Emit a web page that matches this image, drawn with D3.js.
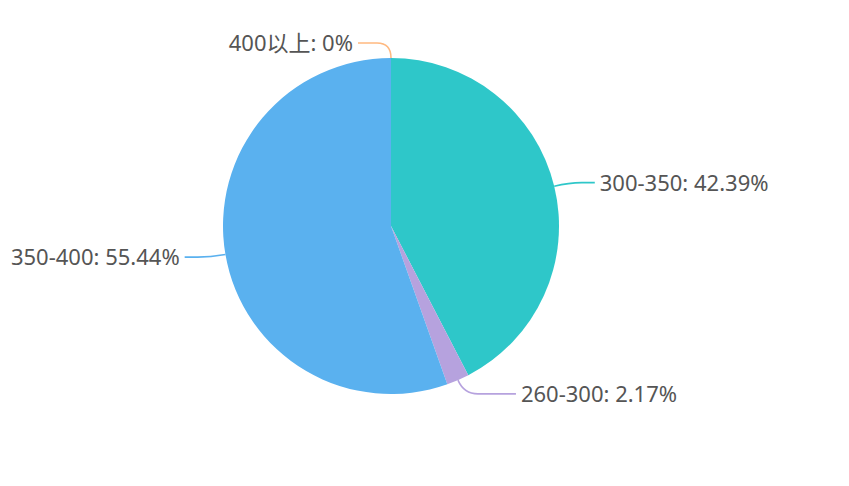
<!DOCTYPE html>
<html><head><meta charset="utf-8">
<script src="https://cdn.jsdelivr.net/npm/d3@7"></script>
<style>body{margin:0;background:#fff}svg{display:block}</style>
</head><body>
<svg id="c" width="849" height="486"></svg>
<script>
const categories = ["300-350", "260-300", "350-400", "400以上"];
const percents = [42.39, 2.17, 55.44, 0];
const colors = ["#2ec7c9", "#b6a2de", "#5ab1ef", "#ffb980"];

const W = 849, H = 486;
const cx = 391, cy = 226, R = 168;
const len1 = 15;
const len2 = [26, 52, 26, 33];

const svg = d3.select("#c");
const data = categories.map((c, i) => ({name: c, value: percents[i], color: colors[i], i}));
const pie = d3.pie().value(d => d.value).sort(null);
const arcs = pie(data);
const arc = d3.arc().innerRadius(0).outerRadius(R);

const g = svg.append("g").attr("transform", `translate(${cx},${cy})`);
g.selectAll("path.slice").data(arcs).enter().append("path")
  .attr("class", "slice").attr("d", arc).attr("fill", d => d.data.color);

arcs.forEach(a => {
  const mid = (a.startAngle + a.endAngle) / 2;
  const sx = Math.sin(mid), sy = -Math.cos(mid);
  const p0 = [R * sx, R * sy];
  const p1 = [(R + len1) * sx, (R + len1) * sy];
  const right = sx >= 0 && mid < Math.PI * 2 - 1e-6;
  const dir = right ? 1 : -1;
  const p2 = [p1[0] + dir * len2[a.data.i], p1[1]];
  const pq = [p1[0] + dir * Math.min(14, len2[a.data.i] * 0.5), p1[1]];
  const p = d3.path();
  p.moveTo(p0[0], p0[1]);
  p.quadraticCurveTo(p1[0], p1[1], pq[0], pq[1]);
  p.lineTo(p2[0], p2[1]);
  g.append("path").attr("d", p.toString())
    .attr("fill", "none").attr("stroke", a.data.color).attr("stroke-width", 1.6);
  g.append("text").attr("x", p2[0] + dir * 5).attr("y", p1[1] - 1)
    .attr("text-anchor", right ? "start" : "end")
    .attr("dominant-baseline", "central")
    .attr("font-family", "'Noto Sans','Noto Sans CJK SC',sans-serif")
    .attr("font-size", 22).attr("fill", "#555")
    .text(`${a.data.name}: ${a.data.value}%`);
});
</script>
</body></html>
